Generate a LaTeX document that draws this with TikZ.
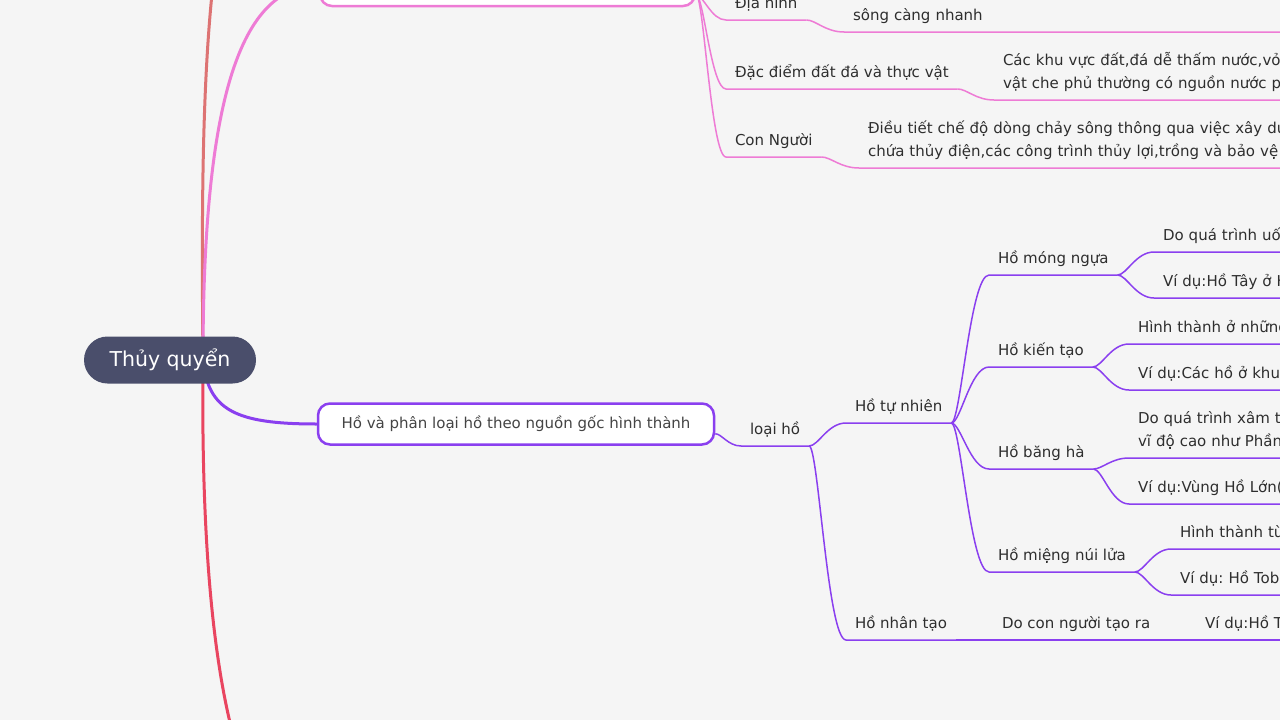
\documentclass[tikz,border=0pt]{standalone}
\usepackage{fontspec}
\setmainfont{DejaVu Sans}
\usepackage{tikz}
\usetikzlibrary{calc}
\frenchspacing

\definecolor{fundo}{HTML}{F5F5F5}
\definecolor{raiz}{HTML}{4A4E6B}
\definecolor{tinta}{HTML}{2E2E2E}
\definecolor{tinta2}{HTML}{444444}
\definecolor{rosa}{HTML}{EE7BD5}
\definecolor{roxo}{HTML}{8A3FEF}
\definecolor{salmao}{HTML}{DD7373}
\definecolor{vermelho}{HTML}{E94560}

\begin{document}
\begin{tikzpicture}[
      x=1pt, y=-1pt,
      every node/.style={font=\fontsize{15}{23}\selectfont, text=tinta},
      topic/.style={anchor=south west, align=left, inner xsep=9pt,
        inner ysep=5pt, outer sep=0pt, execute at end node={\strut}},
      cutoff/.style={topic, text width=440pt},
      central/.style={fill=raiz, text=white, rounded corners=23.5pt,
        minimum width=172pt, minimum height=47pt,
        font=\fontsize{20.5}{24}\selectfont},
      mainbox/.style={draw=#1, line width=2.5pt, fill=white,
        rounded corners=12pt, minimum height=41pt, text=tinta2},
      grosso/.style={draw=#1, line width=3pt},
      fino/.style={draw=#1, line width=1.5pt},
      branch/.style={to path={let \p1=(\tikztostart), \p2=(\tikztotarget) in
        .. controls ({\x1+0.25*(\x2-\x1)},\y1) and ({\x2-0.5*(\x2-\x1)},\y2)
        .. (\tikztotarget)}}
  ]
      \clip (0,0) rectangle (1280,720);
      \fill[fundo] (0,0) rectangle (1280,720);

      % Ramo rosa (cortado em cima)
      \node[mainbox=rosa, minimum width=375pt] (topbox) at (507.5,-14.5) {};
      \node[topic] (dh) at (726,20) {Địa hình};
      \node[cutoff] (song) at (844,32) {sông càng nhanh};
      \node[topic] (dd) at (726,89) {Đặc điểm đất đá và thực vật};
      \node[cutoff] (ddc) at (994,100) {Các khu vực đất,đá dễ thấm nước,vỏ\\vật che phủ thường có nguồn nước p};
      \node[topic] (cn) at (726,157) {Con Người};
      \node[cutoff] (cnc) at (859,168) {Điều tiết chế độ dòng chảy sông thông qua việc xây dự\\chứa thủy điện,các công trình thủy lợi,trồng và bảo vệ};

      % Ramo roxo: lagos
      \node[mainbox=roxo, minimum width=396pt] (box) at (516,424) {Hồ và phân loại hồ theo nguồn gốc hình thành};
      \node[topic] (lh) at (741,446) {loại hồ};
      \node[topic] (htn) at (846,423) {Hồ tự nhiên};
      \node[topic] (hmn) at (989,275) {Hồ móng ngựa};
      \node[cutoff] (hmn1) at (1154,252) {Do quá trình uố};
      \node[cutoff] (hmn2) at (1154,298) {Ví dụ:Hồ Tây ở H};
      \node[topic] (hkt) at (989,367) {Hồ kiến tạo};
      \node[cutoff] (hkt1) at (1129,344) {Hình thành ở những};
      \node[cutoff] (hkt2) at (1129,390) {Ví dụ:Các hồ ở khu};
      \node[topic] (hbh) at (989,469) {Hồ băng hà};
      \node[cutoff] (hbh1) at (1129,458) {Do quá trình xâm t\\vĩ độ cao như Phần};
      \node[cutoff] (hbh2) at (1129,504) {Ví dụ:Vùng Hồ Lớn(};
      \node[topic] (hmnl) at (989,572) {Hồ miệng núi lửa};
      \node[cutoff] (hmnl1) at (1171,549) {Hình thành từ};
      \node[cutoff] (hmnl2) at (1171,595) {Ví dụ: Hồ Toba};
      \node[topic] (hnt) at (846,640) {Hồ nhân tạo};
      \node[topic] (hnt1) at (993,640) {Do con người tạo ra};
      \node[cutoff] (hnt2) at (1196,640) {Ví dụ:Hồ T};

      % Ramos grossos saindo da raiz
      \coordinate (hub) at (203,360);
      \coordinate (acima) at (320,-260);
      \coordinate (abaixo) at (320,860);
      \draw[grosso=salmao] (hub) .. controls (199,0) and (211,-200) .. (acima);
      \draw[grosso=vermelho] (hub) .. controls (200,630) and (228,840) .. (abaixo);
      \draw[grosso=rosa] (hub) .. controls (203,100) and (240,-14.5) .. (topbox.west);
      \draw[grosso=roxo] (hub) .. controls (208,410) and (235,424) .. (box.west);

      % Ligacoes finas (com sublinhado)
      \foreach \a/\b in {dh/song, dd/ddc, cn/cnc}
        \draw[fino=rosa] (\a.south east) to[branch] (\b.south west) -- (\b.south east);
      \foreach \b in {dh, dd, cn}
        \draw[fino=rosa] ([yshift=12pt]topbox.south east) to[branch] (\b.south west) -- (\b.south east);

      \draw[fino=roxo] ([yshift=12pt]box.south east) to[branch] (lh.south west) -- (lh.south east);
      \foreach \a/\b in {lh/htn, lh/hnt, htn/hmn, htn/hkt, htn/hbh, htn/hmnl,
                         hmn/hmn1, hmn/hmn2, hkt/hkt1, hkt/hkt2, hbh/hbh1, hbh/hbh2,
                         hmnl/hmnl1, hmnl/hmnl2, hnt/hnt1, hnt1/hnt2}
        \draw[fino=roxo] (\a.south east) to[branch] (\b.south west) -- (\b.south east);

      % Raiz
      \node[central] (root) at (170,360) {Thủy quyển};

  \end{tikzpicture}
\end{document}
